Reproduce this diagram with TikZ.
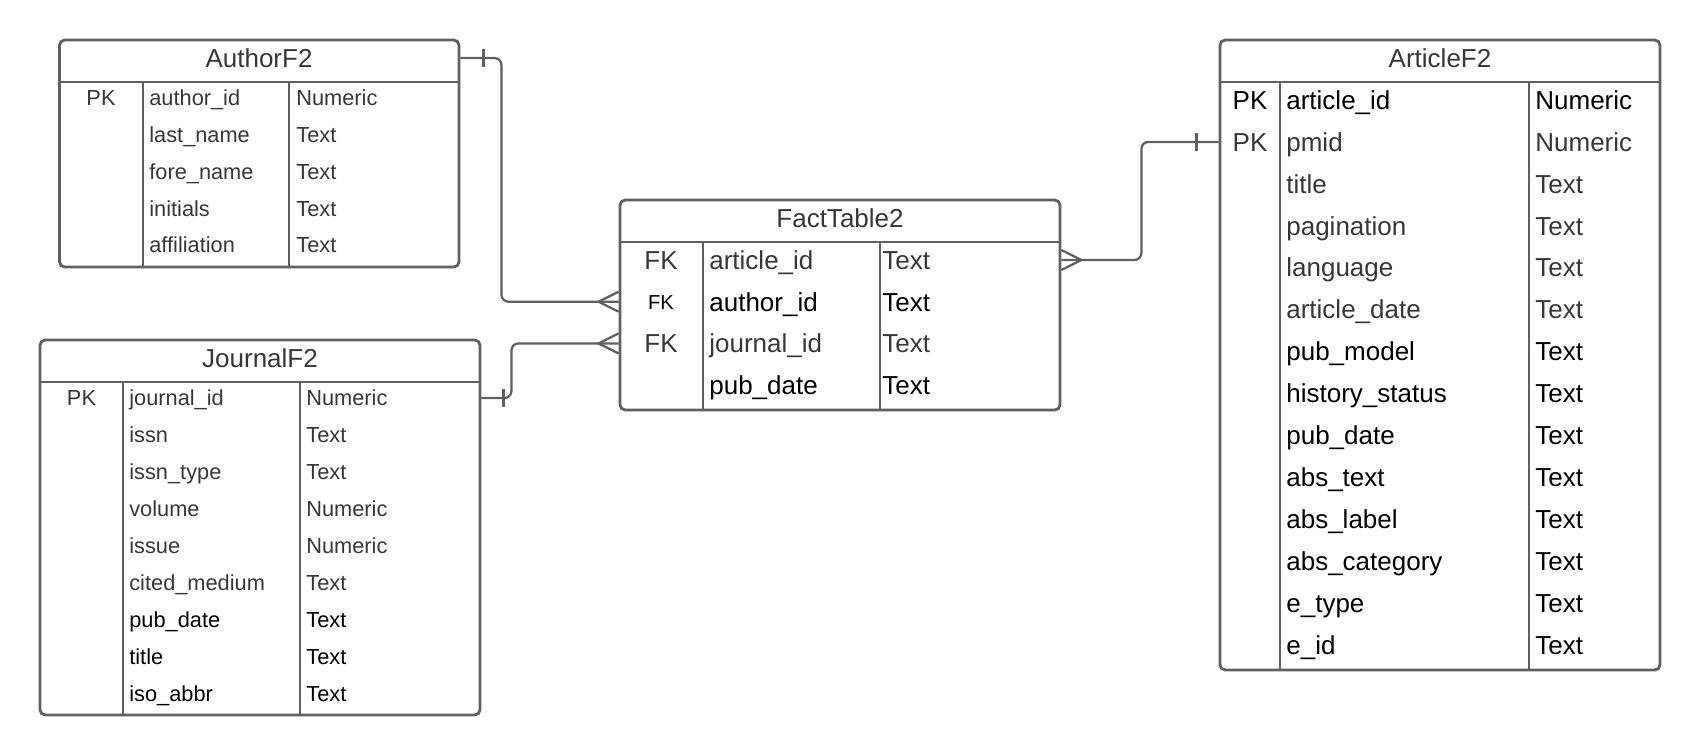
\documentclass[tikz,border=0pt]{standalone}
\usepackage{fontspec}
\setmainfont{Liberation Sans}
\usetikzlibrary{positioning,fit,calc}
\definecolor{linegray}{RGB}{96,96,96}
\definecolor{txtgray}{RGB}{55,55,55}

\begin{document}
\begin{tikzpicture}[x=0.02cm, y=-0.02cm]
    \tikzstyle{tabframe} = [draw=linegray, line width=1.6pt, rounded corners=3pt, inner sep=0pt]
    \tikzstyle{colsep} = [draw=linegray, line width=1.6pt]
    \tikzstyle{tabtitle} = [inner sep=0pt, text depth=0pt, text height=10.6pt, text=txtgray, font=\fontsize{14.8}{17}\selectfont]
    \tikzstyle{smallrow} = [inner sep=0pt, text depth=0pt, text height=8.9pt, font=\fontsize{12.4}{14}\selectfont]
    \tikzstyle{bigrow} = [inner sep=0pt, text depth=0pt, text height=10.6pt, font=\fontsize{14.8}{17}\selectfont]
    \tikzstyle{conn} = [draw=linegray, line width=1.3pt, rounded corners=4pt]

    \useasboundingbox (0,0) rectangle (1700,755);

    % AuthorF2
    \node[tabframe, fit={(59.5,40) (459,267)}] (author) {};
    \node[tabtitle] (authortitle) at (259,58) {AuthorF2};
    \draw[colsep] (author.west |- 0,82) -- (author.east |- 0,82);
    \draw[colsep] (143,82) -- (143,267);
    \draw[colsep] (289,82) -- (289,267);
    \node[smallrow, text=txtgray] (authorpk) at (101,98) {PK};
    \foreach \f/\t/\c [count=\i] in {author\_id/Numeric/txtgray, last\_name/Text/txtgray,
        fore\_name/Text/txtgray, initials/Text/txtgray, affiliation/Text/txtgray} {
        \node[smallrow, anchor=west, text=\c] (au\i) at (149,{98+36.75*(\i-1)}) {\f};
        \node[smallrow, anchor=west, text=\c] (aut\i) at (296,{98+36.75*(\i-1)}) {\t};
    }

    % JournalF2
    \node[tabframe, fit={(40,340) (480,715)}] (journal) {};
    \node[tabtitle] (journaltitle) at (260,358) {JournalF2};
    \draw[colsep] (journal.west |- 0,382) -- (journal.east |- 0,382);
    \draw[colsep] (123,382) -- (123,715);
    \draw[colsep] (300,382) -- (300,715);
    \node[smallrow, text=txtgray] (journalpk) at (81.5,398) {PK};
    \foreach \f/\t/\c [count=\i] in {journal\_id/Numeric/txtgray, issn/Text/txtgray,
        issn\_type/Text/txtgray, volume/Numeric/txtgray, issue/Numeric/txtgray,
        cited\_medium/Text/txtgray, pub\_date/Text/black, title/Text/black, iso\_abbr/Text/black} {
        \node[smallrow, anchor=west, text=\c] (ju\i) at (129,{398+36.96*(\i-1)}) {\f};
        \node[smallrow, anchor=west, text=\c] (jut\i) at (306,{398+36.96*(\i-1)}) {\t};
    }

    % FactTable2
    \node[tabframe, fit={(620,200) (1060,410)}] (fact) {};
    \node[tabtitle] (facttitle) at (840,218) {FactTable2};
    \draw[colsep] (fact.west |- 0,242) -- (fact.east |- 0,242);
    \draw[colsep] (703,242) -- (703,410);
    \draw[colsep] (880,242) -- (880,410);
    \node[bigrow, text=txtgray] (factfk1) at (661,260) {FK};
    \node[smallrow, text height=8pt, font=\fontsize{11.5}{13}\selectfont] (factfk2) at (661,302) {FK};
    \node[bigrow, text=txtgray] (factfk3) at (661,343) {FK};
    \foreach \f/\t/\c [count=\i] in {article\_id/Text/txtgray, author\_id/Text/black,
        journal\_id/Text/txtgray, pub\_date/Text/black} {
        \node[bigrow, anchor=west, text=\c] (fa\i) at (709,{260+41.7*(\i-1)}) {\f};
        \node[bigrow, anchor=west, text=\c] (fat\i) at (882,{260+41.7*(\i-1)}) {\t};
    }

    % ArticleF2
    \node[tabframe, fit={(1220,40) (1660,670)}] (article) {};
    \node[tabtitle] (articletitle) at (1440,58) {ArticleF2};
    \draw[colsep] (article.west |- 0,82) -- (article.east |- 0,82);
    \draw[colsep] (1280,82) -- (1280,670);
    \draw[colsep] (1529,82) -- (1529,670);
    \node[bigrow] (articlepk1) at (1250,100) {PK};
    \node[bigrow, text=txtgray] (articlepk2) at (1250,142) {PK};
    \foreach \f/\t/\c [count=\i] in {article\_id/Numeric/black, pmid/Numeric/txtgray,
        title/Text/txtgray, pagination/Text/txtgray, language/Text/txtgray,
        article\_date/Text/txtgray, pub\_model/Text/black, history\_status/Text/black,
        pub\_date/Text/black, abs\_text/Text/black, abs\_label/Text/black,
        abs\_category/Text/black, e\_type/Text/black, e\_id/Text/black} {
        \node[bigrow, anchor=west, text=\c] (ar\i) at (1286,{100+41.9*(\i-1)}) {\f};
        \node[bigrow, anchor=west, text=\c] (art\i) at (1535,{100+41.9*(\i-1)}) {\t};
    }

    % relations
    \draw[conn] (authortitle -| author.east) -- ++(41,0) |- (fa2 -| fact.west);
    \draw[conn] ($(authortitle -| author.east)+(23,-9)$) -- ++(0,18);
    \draw[conn, sharp corners] ($(fa2 -| fact.west)+(0,-10)$) -- ++(-20,10) -- ++(20,10);

    \draw[conn] (ju1 -| journal.east) -- ++(30,0) |- (fa3 -| fact.west);
    \draw[conn] ($(ju1 -| journal.east)+(22,-9)$) -- ++(0,18);
    \draw[conn, sharp corners] ($(fa3 -| fact.west)+(0,-10)$) -- ++(-20,10) -- ++(20,10);

    \draw[conn] (fa1 -| fact.east) -- ++(80,0) |- (ar2 -| article.west);
    \draw[conn] ($(ar2 -| article.west)+(-22,-9)$) -- ++(0,18);
    \draw[conn, sharp corners] ($(fa1 -| fact.east)+(0,-10)$) -- ++(20,10) -- ++(-20,10);
\end{tikzpicture}
\end{document}
